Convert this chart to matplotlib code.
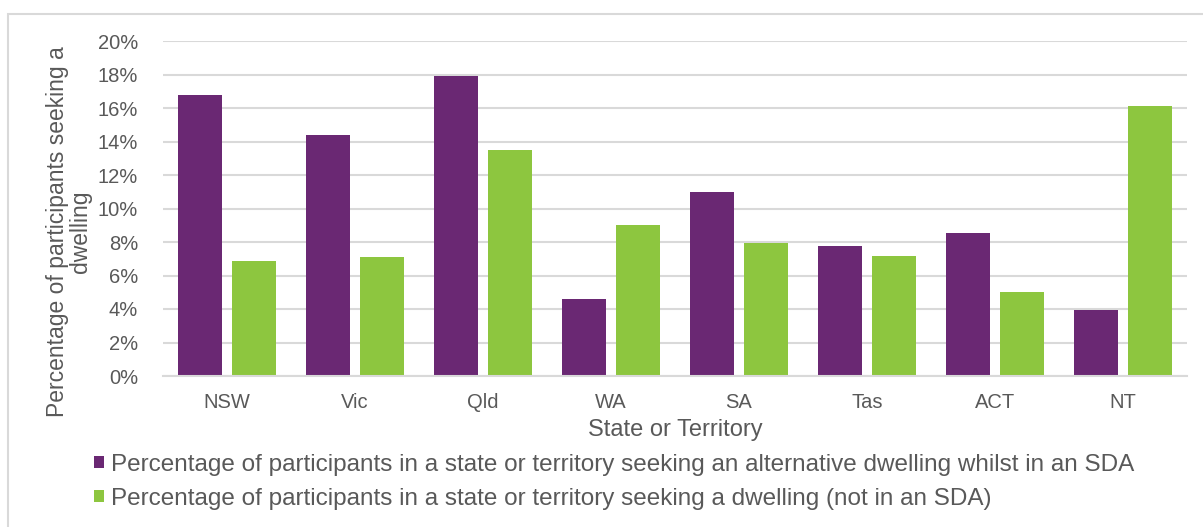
import numpy as np
import matplotlib as mpl
mpl.use('Agg')
import matplotlib.pyplot as plt
from matplotlib.patches import Rectangle
from matplotlib.ticker import PercentFormatter

states = ["NSW", "Vic", "Qld", "WA", "SA", "Tas", "ACT", "NT"]
in_sda = [16.8, 14.4, 17.9, 4.6, 11.0, 7.75, 8.55, 3.95]
not_in_sda = [6.85, 7.1, 13.5, 9.0, 7.95, 7.15, 5.0, 16.1]
lab_sda = "Percentage of participants in a state or territory seeking an alternative dwelling whilst in an SDA"
lab_not = "Percentage of participants in a state or territory seeking a dwelling (not in an SDA)"

purple = "#6a2873"
green = "#8dc63f"
txt = "#595959"
grid = "#d9d9d9"

plt.rcParams['font.family'] = ['Liberation Sans', 'DejaVu Sans']

fig = plt.figure(figsize=(12.03, 5.27), dpi=100)
# outer chart frame
fig.patches.append(Rectangle((8/1203, -0.1), 1.2, 1 - 14/527 + 0.1, transform=fig.transFigure,
                             fill=False, edgecolor=grid, linewidth=1.5))
ax = fig.add_axes([163/1203, 1 - 376/527, (1187 - 163)/1203, (376 - 41)/527])

x = np.arange(len(states))
w = 0.344
b1 = ax.bar(x - 0.211, in_sda, w, color=purple, label=lab_sda)
b2 = ax.bar(x + 0.211, not_in_sda, w, color=green, label=lab_not)

ax.set_xlim(-0.5, len(states) - 0.5)
ax.set_ylim(0, 20)
ax.set_yticks(np.arange(0, 21, 2))
ax.yaxis.set_major_formatter(PercentFormatter(decimals=0))
ax.set_xticks(x)
ax.set_xticklabels(states)
ax.tick_params(axis='both', length=0, labelsize=14.5, colors=txt)
ax.tick_params(axis='x', pad=12)
ax.tick_params(axis='y', pad=18)
ax.grid(axis='y', color=grid, linewidth=1.5)
ax.set_axisbelow(True)
for s in ['top', 'right', 'left']:
    ax.spines[s].set_visible(False)
ax.spines['bottom'].set_color(grid)
ax.spines['bottom'].set_linewidth(1.5)

ax.set_xlabel("State or Territory", fontsize=17, color=txt, labelpad=5)
fig.text(69/1203, 1 - 232/527, "Percentage of participants seeking a\ndwelling", rotation=90,
         ha='center', va='center', multialignment='center', fontsize=16.5, color=txt,
         linespacing=1.0)

leg = fig.legend(handles=[b1, b2], loc='upper left', bbox_to_anchor=(84/1203, 1 - 444/527),
                 frameon=False, fontsize=17.5, handlelength=0.42, handleheight=0.42,
                 handletextpad=0.3, labelspacing=0.5, borderaxespad=0)
for t in leg.get_texts():
    t.set_color(txt)

fig.savefig("out.png", dpi=100)
